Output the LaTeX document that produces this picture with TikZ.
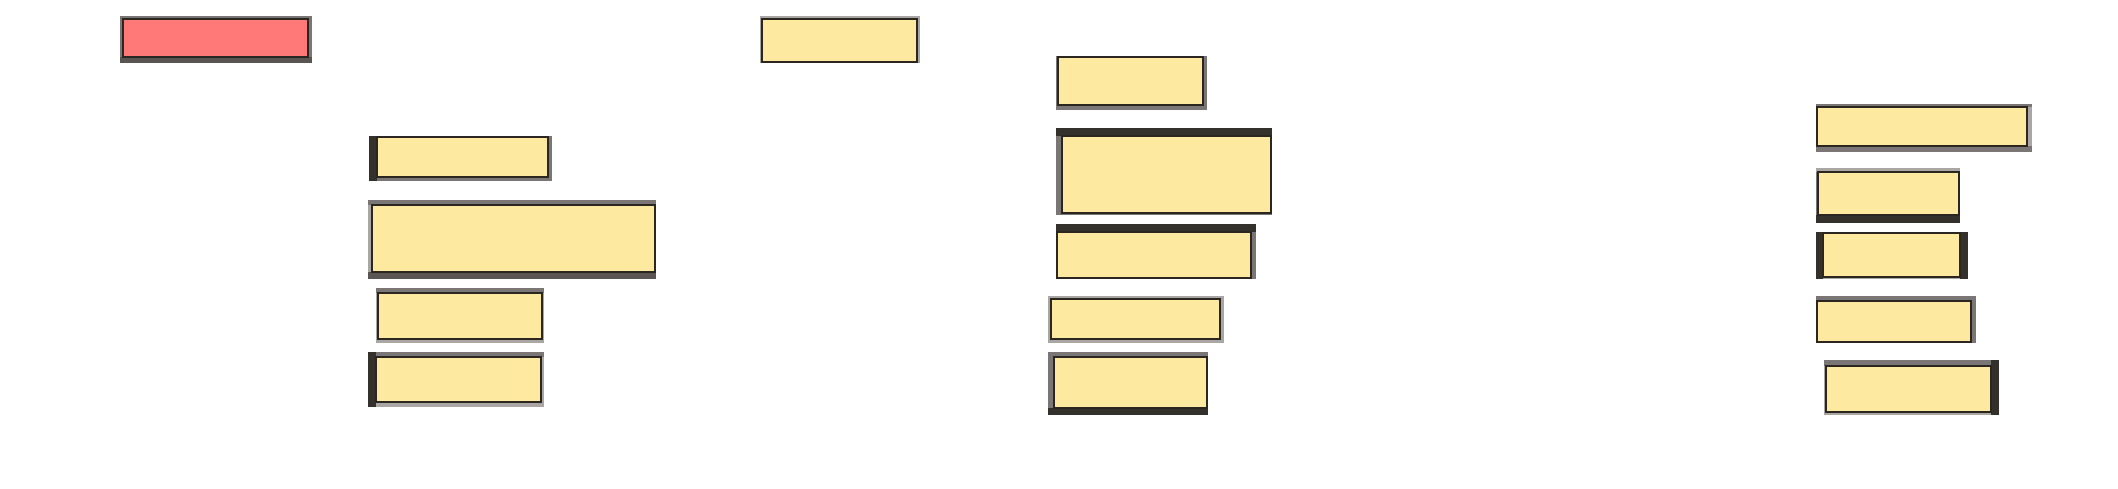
\documentclass[tikz,border=0pt]{standalone}
\usetikzlibrary{fit}
\definecolor{yel}{HTML}{FEE9A1}
\definecolor{redf}{HTML}{FF7979}
\definecolor{dk}{HTML}{34302C}
\definecolor{dg}{HTML}{5A5452}
\definecolor{gr}{HTML}{7A7676}
\definecolor{lg}{HTML}{A9A6A4}
\definecolor{ink}{HTML}{2B2720}
\tikzset{
  ybox/.style={draw=ink, line width=1.3pt, fill=yel, inner sep=0pt, rectangle},
  rbox/.style={ybox, fill=redf},
}
\begin{document}
\begin{tikzpicture}[x=1pt,y=-1pt]
\useasboundingbox[fill=white] (0,0) rectangle (2118,488);
% 1 red
\fill[gr] (120,16) rectangle (312,63);
\fill[dg] (120,57) rectangle (312,63);
\node[rbox, fit={(123,19) (308,57)}] (b1) {};
% 2
\fill[lg] (760,16) rectangle (920,63);
\node[ybox, fit={(762,19) (917,62)}] (b2) {};
% 3
\fill[gr] (1056,56) rectangle (1207,110);
\node[ybox, fit={(1058,57) (1203,105)}] (b3) {};
% 4
\fill[gr] (1056,128) rectangle (1272,215);
\fill[dk] (1056,128) rectangle (1272,136);
\node[ybox, fit={(1062,136) (1271,213)}] (b4) {};
% 5
\fill[gr] (1056,224) rectangle (1256,279);
\fill[dk] (1056,224) rectangle (1256,232);
\node[ybox, fit={(1057,232) (1251,278)}] (b5) {};
% 6
\fill[lg] (1048,296) rectangle (1224,343);
\node[ybox, fit={(1051,299) (1220,339)}] (b6) {};
% 7
\fill[gr] (1048,352) rectangle (1208,415);
\fill[dk] (1048,408) rectangle (1208,415);
\node[ybox, fit={(1054,357) (1207,408)}] (b7) {};
% 8
\fill[gr] (369,136) rectangle (552,181);
\fill[dk] (369,136) rectangle (377,181);
\node[ybox, fit={(377,137) (548,177)}] (b8) {};
% 9
\fill[gr] (368,200) rectangle (656,279);
\fill[lg] (368,205) rectangle (372,272);
\fill[dg] (368,272) rectangle (656,279);
\node[ybox, fit={(372,205) (655,272)}] (b9) {};
% 10
\fill[lg] (376,288) rectangle (544,343);
\fill[gr] (376,288) rectangle (544,293);
\node[ybox, fit={(378,293) (542,339)}] (b10) {};
% 11
\fill[lg] (368,352) rectangle (544,407);
\fill[gr] (368,352) rectangle (544,357);
\fill[dk] (368,352) rectangle (376,407);
\node[ybox, fit={(376,357) (541,402)}] (b11) {};
% 12
\fill[gr] (1816,104) rectangle (2032,152);
\fill[lg] (2027,107) rectangle (2032,146);
\node[ybox, fit={(1817,107) (2027,146)}] (b12) {};
% 13
\fill[lg] (1816,168) rectangle (1960,223);
\fill[gr] (1816,172) rectangle (1818,215);
\fill[dk] (1816,215) rectangle (1960,223);
\node[ybox, fit={(1818,172) (1959,215)}] (b13) {};
% 14
\fill[lg] (1816,232) rectangle (1968,279);
\fill[dk] (1816,232) rectangle (1823,279);
\fill[dk] (1960,232) rectangle (1968,279);
\node[ybox, fit={(1823,233) (1960,277)}] (b14) {};
% 15
\fill[gr] (1816,296) rectangle (1976,343);
\node[ybox, fit={(1817,301) (1971,342)}] (b15) {};
% 16
\fill[lg] (1824,360) rectangle (1999,415);
\fill[gr] (1824,360) rectangle (1999,366);
\fill[dk] (1991,360) rectangle (1999,415);
\node[ybox, fit={(1826,366) (1991,412)}] (b16) {};
\end{tikzpicture}
\end{document}
